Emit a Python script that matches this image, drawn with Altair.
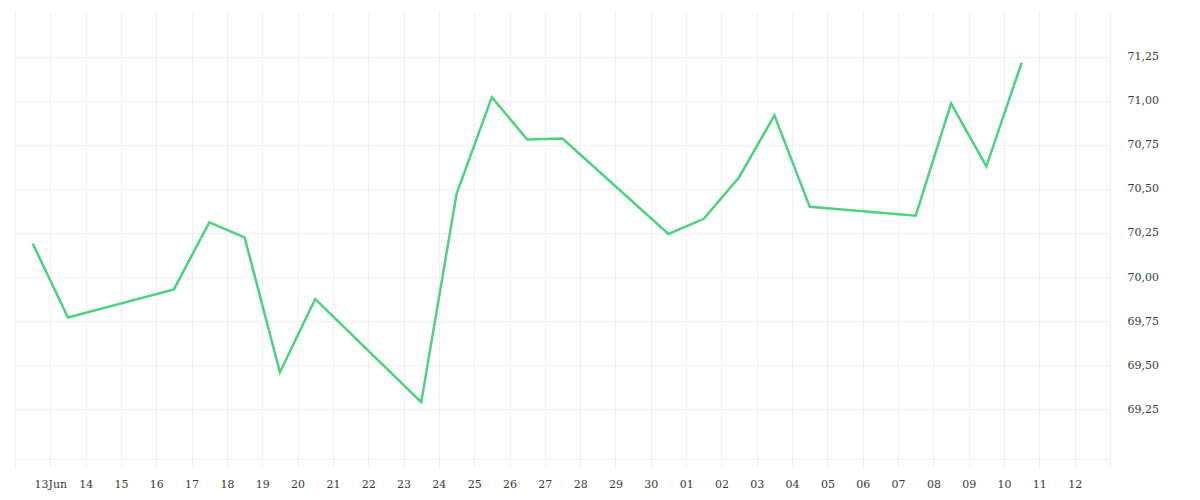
import altair as alt
import pandas as pd

dates = ["2014-06-12", "2014-06-13", "2014-06-16", "2014-06-17", "2014-06-18",
         "2014-06-19", "2014-06-20", "2014-06-23", "2014-06-24", "2014-06-25",
         "2014-06-26", "2014-06-27", "2014-06-30", "2014-07-01", "2014-07-02",
         "2014-07-03", "2014-07-04", "2014-07-07", "2014-07-08", "2014-07-09",
         "2014-07-10"]
values = [70.19, 69.77, 69.93, 70.31, 70.225, 69.46, 69.875, 69.29, 70.47, 71.02,
          70.78, 70.785, 70.244, 70.33, 70.566, 70.917, 70.398, 70.348, 70.985,
          70.627, 71.216]
y_ticks = [69.25, 69.5, 69.75, 70.0, 70.25, 70.5, 70.75, 71.0, 71.25]

DAY = 86400000
start = pd.Timestamp("2014-06-12", tz="UTC").value // 10**6
end = pd.Timestamp("2014-07-13", tz="UTC").value // 10**6
x_ticks = [start + i * DAY for i in range(32)]
first_label = start + DAY

df = pd.DataFrame({"date": dates, "value": values})

GRID = "#efefef"
FONT = "DejaVu Serif"

label_expr = (
    f"time(datum.value) <= {start} || time(datum.value) >= {end} ? '' : "
    f"(time(datum.value) == {first_label} ? '13Jun' : utcFormat(datum.value, '%d'))"
)

chart = (
    alt.Chart(df)
    .transform_calculate(t=f"toDate(datum.date) + {DAY // 2}")
    .mark_line(color="#4fd27f", strokeWidth=2.5, clip=True)
    .encode(
        x=alt.X(
            "t:T",
            scale=alt.Scale(type="utc", domain=[start, end]),
            axis=alt.Axis(
                values=x_ticks,
                labelExpr=label_expr,
                title=None,
                grid=True,
                gridColor=GRID,
                domainColor=GRID,
                tickColor=GRID,
                tickSize=9,
                labelPadding=10,
                labelFont=FONT,
                labelFontSize=11,
                labelColor="#3a3a3a",
                labelAngle=0,
                labelAlign="center",
                labelBaseline="top",
                labelOverlap=False,
                labelFlush=False,
            ),
        ),
        y=alt.Y(
            "value:Q",
            scale=alt.Scale(domain=[68.968, 71.503], nice=False, zero=False),
            axis=alt.Axis(
                orient="right",
                values=y_ticks,
                labelExpr="replace(format(datum.value, '.2f'), '.', ',')",
                title=None,
                grid=True,
                gridColor=GRID,
                domain=False,
                ticks=False,
                labelPadding=17,
                labelFont=FONT,
                labelFontSize=11,
                labelColor="#3a3a3a",
                labelAlign="left",
                labelBaseline="middle",
            ),
        ),
    )
    .properties(
        width=1095,
        height=447,
        background="white",
        autosize=alt.AutoSizeParams(type="none"),
        padding={"left": 7, "top": 4, "right": 80, "bottom": 35},
    )
    .configure_view(stroke=None, strokeWidth=0)
)

chart.save("out.html", embed_options={"renderer": "svg", "actions": False})
